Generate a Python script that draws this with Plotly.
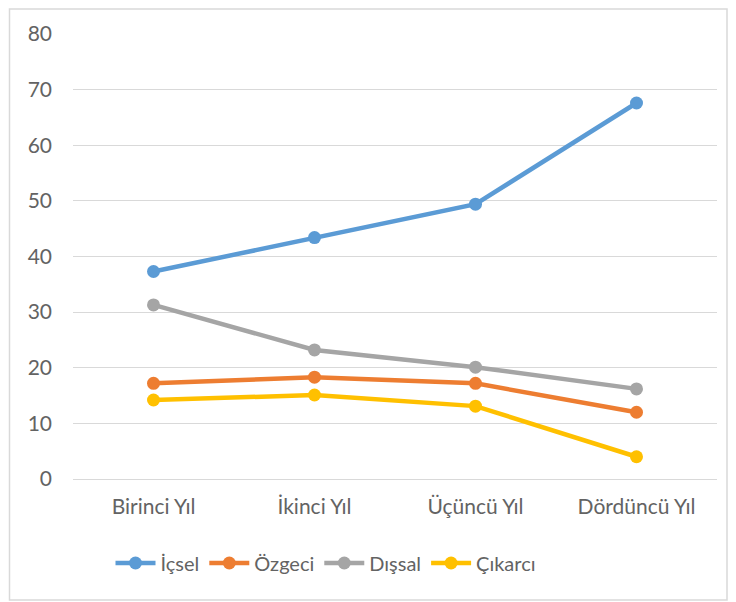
import plotly.graph_objects as go

categories = ["Birinci Yıl", "İkinci Yıl", "Üçüncü Yıl", "Dördüncü Yıl"]
icsel = [37.3, 43.4, 49.4, 67.6]
ozgeci = [17.2, 18.3, 17.2, 12.0]
dissal = [31.3, 23.2, 20.1, 16.2]
cikarci = [14.2, 15.1, 13.1, 4.0]
y_ticks = [0, 10, 20, 30, 40, 50, 60, 70, 80]

series = [
    ("İçsel", icsel, "#5B9BD5"),
    ("Özgeci", ozgeci, "#ED7D31"),
    ("Dışsal", dissal, "#A5A5A5"),
    ("Çıkarcı", cikarci, "#FFC000"),
]

fig = go.Figure()
for name, vals, color in series:
    fig.add_trace(go.Scatter(
        x=categories, y=vals, name=name, mode="lines+markers",
        line=dict(color=color, width=4.5),
        marker=dict(color=color, size=13),
    ))

# page body has an 8px margin, so the figure starts at (8, 8)
OFF = 8
W, H = 736 - OFF, 602 - OFF
L, R, T, B = 73 - OFF, 19, 34 - OFF, 123
pw, ph = W - L - R, H - T - B
FONT = "Lato, Carlito, Liberation Sans, sans-serif"
TICK_SIZE = 21
TEXT_COLOR = "#636363"

def px_x(x):
    return (x - OFF - L) / pw

def px_y(y):
    return (H - B - (y - OFF)) / ph

fig.update_layout(
    width=W, height=H,
    margin=dict(l=L, r=R, t=T, b=B, autoexpand=False),
    paper_bgcolor="white", plot_bgcolor="white",
    font=dict(family=FONT, size=18, color=TEXT_COLOR),
    showlegend=True,
    legend=dict(orientation="h", x=px_x(326), xanchor="center",
                y=px_y(563), yanchor="middle",
                font=dict(size=20, color=TEXT_COLOR), itemwidth=40,
                traceorder="normal"),
    xaxis=dict(range=[-0.5, 3.5], showgrid=False, showline=False, ticks="",
               zeroline=False, automargin=False, ticklabelstandoff=13,
               tickfont=dict(size=TICK_SIZE, color=TEXT_COLOR)),
    yaxis=dict(range=[0, 80], tickvals=y_ticks, showgrid=True, gridcolor="#D9D9D9",
               gridwidth=1, zeroline=True, zerolinecolor="#D9D9D9", zerolinewidth=1,
               showline=False, ticks="", automargin=False, ticklabelstandoff=20,
               tickfont=dict(size=TICK_SIZE, color=TEXT_COLOR)),
    shapes=[dict(type="rect", xref="paper", yref="paper",
                 x0=px_x(9.5), x1=px_x(727),
                 y0=px_y(600), y1=px_y(9),
                 line=dict(color="#D9D9D9", width=1.5), fillcolor="rgba(0,0,0,0)",
                 layer="below")],
)
fig.write_html("out.html")
